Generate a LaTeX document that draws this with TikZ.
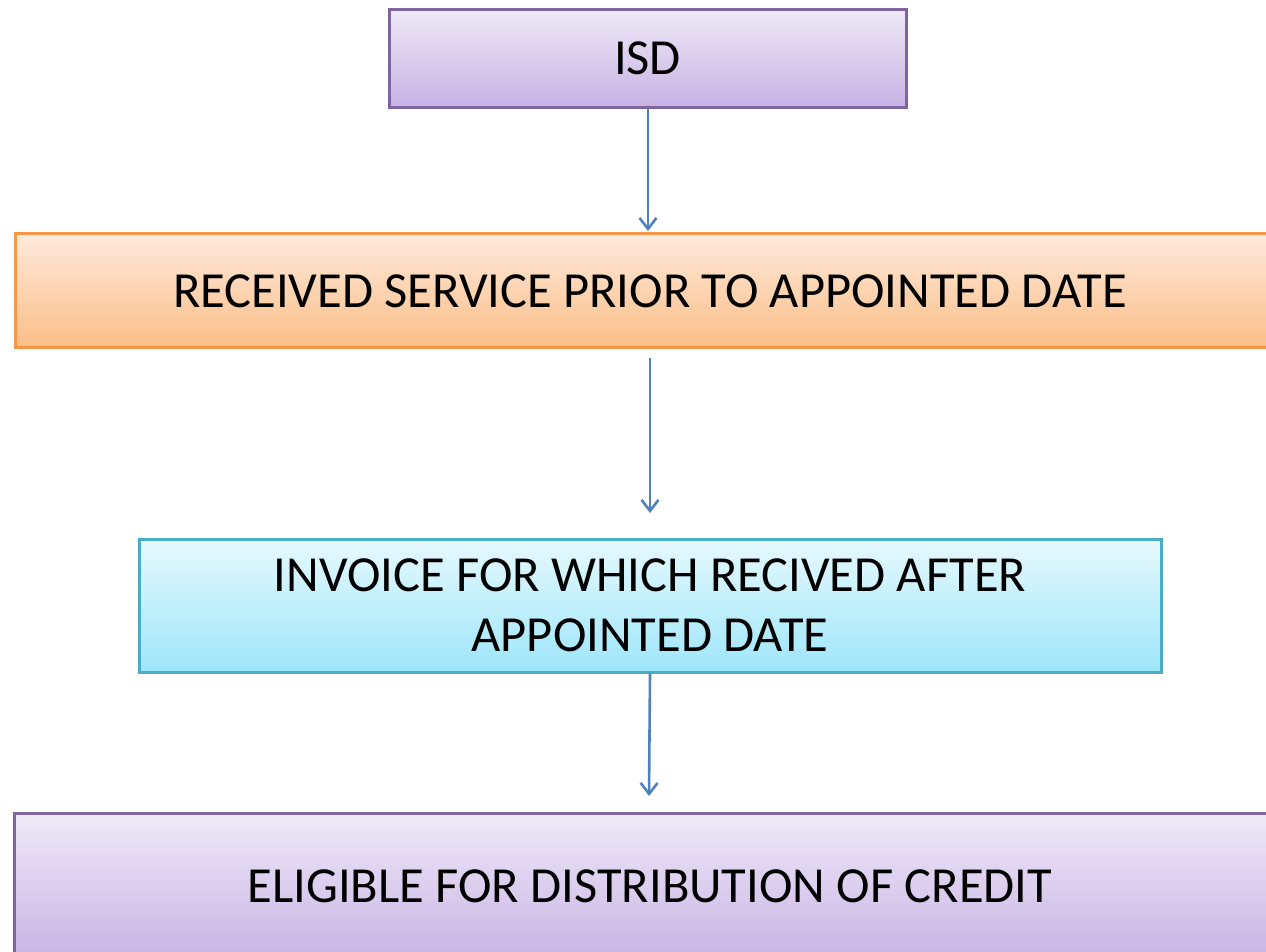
\documentclass[tikz,border=0pt]{standalone}
\usepackage{fontspec}
\setmainfont{Carlito}
\usetikzlibrary{arrows.meta}
\definecolor{purpleedge}{HTML}{8064A2}
\definecolor{purpletop}{HTML}{EFEAF8}
\definecolor{purplebot}{HTML}{C6B2E4}
\definecolor{orangeedge}{HTML}{F79646}
\definecolor{orangetop}{HTML}{FEEADC}
\definecolor{orangebot}{HTML}{FBBE88}
\definecolor{cyanedge}{HTML}{4BACC6}
\definecolor{cyantop}{HTML}{E6F9FE}
\definecolor{cyanbot}{HTML}{9EE6FA}
\definecolor{arrowblue}{HTML}{4F81BD}
\tikzset{
  boxfont/.style={font=\fontsize{50.5}{60}\selectfont},
  flowbox/.style={rectangle, line width=3pt, inner sep=0pt, align=center, boxfont},
  purplebox/.style={flowbox, draw=purpleedge, top color=purpletop, bottom color=purplebot},
  orangebox/.style={flowbox, draw=orangeedge, top color=orangetop, bottom color=orangebot},
  cyanbox/.style={flowbox, draw=cyanedge, top color=cyantop, bottom color=cyanbot},
  flowarrow/.style={draw=arrowblue, line width=2.6pt,
    -{Straight Barb[length=11pt,width=17pt,line width=2.6pt]}}
}
\begin{document}
\begin{tikzpicture}[x=1pt,y=-1pt]
\useasboundingbox (0,0) rectangle (1266,951);
\clip (0,0) rectangle (1266,951);
% boxes
\node[purplebox, minimum width=517pt, minimum height=98pt] (isd) at (647.5,58) {ISD};
\node[orangebox, minimum width=1270pt, minimum height=114pt] (recv) at (650,290) {};
\node[boxfont] (recvtext) at (650,291) {RECEIVED SERVICE PRIOR TO APPOINTED DATE};
\node[cyanbox, minimum width=1022pt, minimum height=133pt] (inv) at (650,605.5)
  {INVOICE FOR WHICH RECIVED AFTER\\APPOINTED DATE};
\node[purplebox, minimum width=1270pt, minimum height=150pt] (elig) at (649,888) {};
\node[boxfont] (eligtext) at (650,886) {ELIGIBLE FOR DISTRIBUTION OF CREDIT};
% connectors
\coordinate (a2s) at (650,358);
\coordinate (a2e) at (650,513);
\coordinate (a3e) at (649,796);
\draw[flowarrow] (isd.south -| 648,0) -- (648,231);
\draw[flowarrow] (a2s) -- (a2e);
\draw[flowarrow] (inv.south) -- (a3e);
\end{tikzpicture}
\end{document}
